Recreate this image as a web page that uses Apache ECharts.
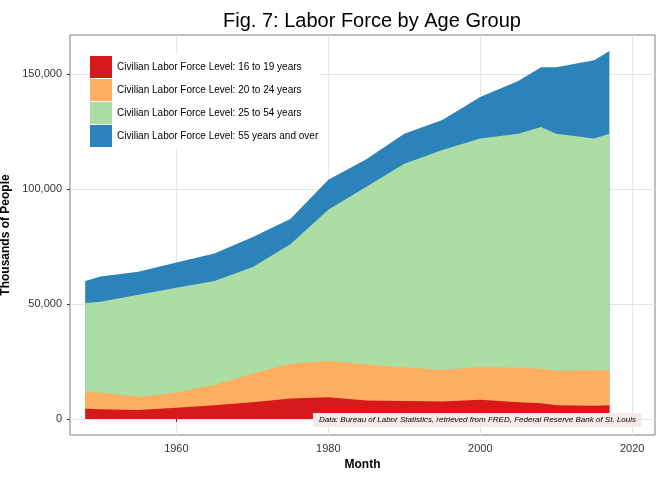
<!DOCTYPE html>
<html><head><meta charset="utf-8">
<script src="https://cdn.jsdelivr.net/npm/echarts@6/dist/echarts.min.js"></script>
<style>html,body{margin:0;background:#fff}#chart{width:672px;height:480px}</style>
</head><body><div id="chart"></div>
<script>
// thousands of people
var years    = [1948,1950,1955,1960,1965,1970,1975,1980,1985,1990,1995,2000,2005,2008,2010,2015,2017];
var teen     = [4.4,4.2,3.9,4.8,5.9,7.2,8.9,9.4,8.0,7.8,7.6,8.3,7.2,6.8,5.9,5.7,5.9];
var young    = [7.3,7.3,5.6,6.7,8.9,12.4,15.1,15.8,15.7,14.7,13.7,14.3,15.0,15.0,15.0,15.5,15.3];
var prime    = [38.7,39.5,44.5,45.5,45.2,46.4,52,65.8,77.3,88.5,95.7,99.4,101.8,105.2,103.1,100.8,102.8];
var older    = [9.6,11,10,11,12,13,11,13,12,13,13,18,23,26,29,34,36];
var names = ['Civilian Labor Force Level: 16 to 19 years','Civilian Labor Force Level: 20 to 24 years',
             'Civilian Labor Force Level: 25 to 54 years','Civilian Labor Force Level: 55 years and over'];
var colors = ['#d7191c','#fdae61','#abdda4','#2b83ba'];

// cumulative tops, stacked by hand
var groups = [teen, young, prime, older];
var cum = [];
groups.forEach(function(arr, i){
  cum.push(arr.map(function(v, j){ return v + (i ? cum[i-1][j] : 0); }));
});

var series = [3,2,1,0].map(function(i){
  return {name: names[i], type: 'line', symbol: 'none',
    data: years.map(function(y, j){ return [y, cum[i][j]*1000]; }),
    lineStyle: {width: 0}, areaStyle: {color: colors[i], opacity: 1}, itemStyle: {color: colors[i]}};
});

var myChart = echarts.init(document.getElementById('chart'));
myChart.setOption({
  animation: false,
  title: {text: 'Fig. 7: Labor Force by Age Group', left: 367, top: 6, textAlign: 'center',
    textStyle: {fontFamily: 'Liberation Sans', fontSize: 20, fontWeight: 'normal', color: '#000'}},
  grid: {left: 70, right: 17, top: 35, bottom: 45, show: true, borderColor: '#7f7f7f', borderWidth: 1,
    outerBoundsMode: 'none', containLabel: false},
  legend: {data: names, orient: 'vertical', left: 88, top: 54, icon: 'rect', itemWidth: 22, itemHeight: 22, itemGap: 1,
    backgroundColor: '#fff', padding: 2,
    textStyle: {fontFamily: 'Liberation Sans', fontSize: 10, color: '#000'}},
  xAxis: {type: 'value', min: 1946, max: 2023, name: 'Month', nameLocation: 'middle', nameGap: 22,
    nameTextStyle: {fontFamily: 'Liberation Sans', fontWeight: 'bold', fontSize: 12, color: '#000'},
    axisLine: {show: false},
    axisTick: {customValues: [1960,1980,2000,2020], length: 3, lineStyle: {color: '#333'}},
    axisLabel: {customValues: [1960,1980,2000,2020], color: '#333', fontFamily: 'Liberation Sans', fontSize: 11,
      formatter: function(v){ return String(v); }},
    splitLine: {show: true, lineStyle: {color: '#e5e5e5'}}},
  yAxis: {type: 'value', min: -7000, max: 167000, name: 'Thousands of People', nameLocation: 'middle', nameGap: 52,
    nameTextStyle: {fontFamily: 'Liberation Sans', fontWeight: 'bold', fontSize: 12, color: '#000'},
    axisLine: {show: false},
    axisTick: {customValues: [0,50000,100000,150000], length: 3, lineStyle: {color: '#333'}},
    axisLabel: {customValues: [0,50000,100000,150000], color: '#333', fontFamily: 'Liberation Sans', fontSize: 11,
      formatter: function(v){ return v.toLocaleString('en-US'); }},
    splitLine: {show: true, lineStyle: {color: '#e5e5e5'}}},
  graphic: [{type: 'text', right: 30, top: 413, z: 100,
    style: {text: 'Data: Bureau of Labor Statistics, retrieved from FRED, Federal Reserve Bank of St. Louis',
      font: 'italic 8px Liberation Sans', fill: '#000', backgroundColor: '#f5e9ea', padding: [3,6]}}],
  series: series
});
</script></body></html>
